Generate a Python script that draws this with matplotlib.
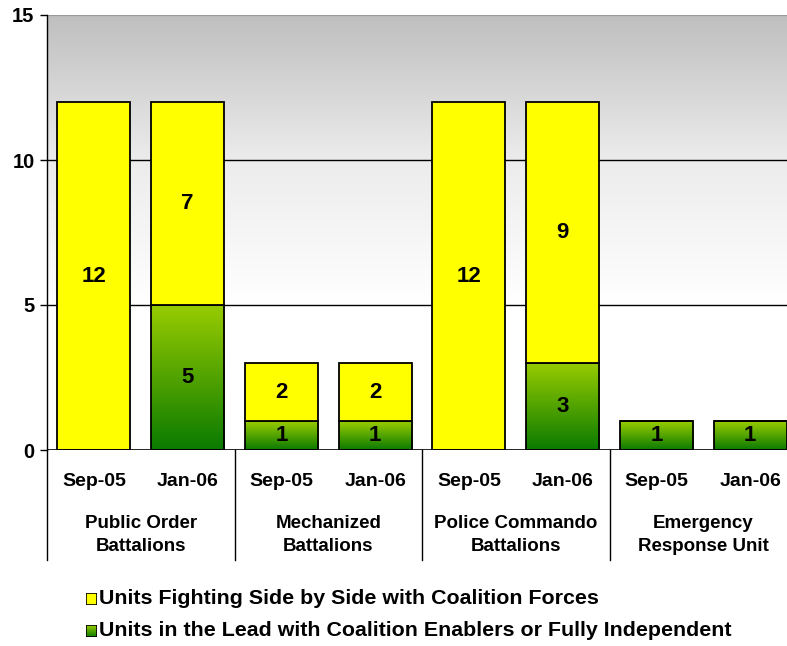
import matplotlib
matplotlib.use("Agg")

import matplotlib.pyplot as plt
import numpy as np
from matplotlib.colors import LinearSegmentedColormap
from matplotlib.patches import Rectangle

plt.rcParams['font.family'] = ['Liberation Sans', 'DejaVu Sans']

periods = ["Sep-05", "Jan-06", "Sep-05", "Jan-06", "Sep-05", "Jan-06", "Sep-05", "Jan-06"]
groups = ["Public Order\nBattalions", "Mechanized\nBattalions",
          "Police Commando\nBattalions", "Emergency\nResponse Unit"]
lead = [0, 5, 1, 1, 0, 3, 1, 1]
side_by_side = [12, 7, 2, 2, 12, 9, 0, 0]
legend_labels = ["Units Fighting Side by Side with Coalition Forces",
                 "Units in the Lead with Coalition Enablers or Fully Independent"]

fig = plt.figure(figsize=(7.87, 6.46), dpi=100)
ax = fig.add_axes([47 / 787, 1 - 450 / 646, 750 / 787, 435 / 646])
ax.set_xlim(-0.5, len(periods) - 0.5)
ax.set_ylim(0, 15)

# background gradient: gray at top, white at bottom
bg = LinearSegmentedColormap.from_list("bg", ["#ffffff", "#ffffff", "#ececec", "#bfbfbf"],)
grad = np.linspace(0, 1, 256).reshape(-1, 1)
ax.imshow(grad, cmap=bg, aspect="auto", extent=[0, 1, 0, 1], origin="lower",
          transform=ax.transAxes, zorder=0)

for y in [5, 10]:
    ax.axhline(y, color="black", lw=1.0, zorder=1)
ax.axhline(15, color="#999999", lw=1.6, zorder=1)

x = np.arange(len(periods))
w = 0.78
green_cmap = LinearSegmentedColormap.from_list("gr", ["#0a7a00", "#99cc00"])

green_bars = ax.bar(x, lead, width=w, facecolor="none", edgecolor="black", lw=1.3, zorder=3)
for b, v in zip(green_bars, lead):
    if v <= 0:
        continue
    x0, y0 = b.get_x(), b.get_y()
    bw, bh = b.get_width(), b.get_height()
    ax.imshow(grad, cmap=green_cmap, aspect="auto", origin="lower",
              extent=[x0, x0 + bw, y0, y0 + bh], zorder=2)
    ax.text(x0 + bw / 2, y0 + bh / 2, str(v), ha="center", va="center",
            fontsize=16, fontweight="bold", zorder=4)

yellow_bars = ax.bar(x, side_by_side, bottom=lead, width=w, color="#ffff00",
                     edgecolor="black", lw=1.3, zorder=3)
for b, v in zip(yellow_bars, side_by_side):
    if v <= 0:
        continue
    ax.text(b.get_x() + b.get_width() / 2, b.get_y() + b.get_height() / 2, str(v),
            ha="center", va="center", fontsize=16, fontweight="bold", zorder=4)
ax.set_xlim(-0.5, len(periods) - 0.5)
ax.set_ylim(0, 15)

ax.set_yticks([0, 5, 10, 15])
ax.set_yticklabels(["0", "5", "10", "15"], fontsize=14.5, fontweight="bold")
ax.tick_params(axis="y", length=5, width=1, pad=4)
ax.set_xticks([])
for s in ["top", "right", "bottom"]:
    ax.spines[s].set_visible(False)
ax.spines["left"].set_linewidth(1.0)
ax.axhline(0, color="black", lw=1.2, zorder=5)

# two-level category labels
for i, p in enumerate(periods):
    ax.text(i, -1.07, p, ha="center", va="center", fontsize=14, fontweight="bold")
for g, name in enumerate(groups):
    ax.text(2 * g + 0.5, -2.93, name, ha="center", va="center", fontsize=13.5,
            fontweight="bold", linespacing=1.5)
for g in range(len(groups)):
    xs = 2 * g - 0.5
    ax.plot([xs, xs], [0, -3.8], color="black", lw=1.0, clip_on=False, zorder=5)

# legend
fig_w, fig_h = 787, 646
for k, (lab, col) in enumerate(zip(legend_labels, ["#ffff00", None])):
    yc = 599 + k * 32
    rect_ax = fig.add_axes([86 / fig_w, 1 - (yc + 6) / fig_h, 11 / fig_w, 12 / fig_h])
    rect_ax.set_axis_off()
    if col:
        rect_ax.add_patch(Rectangle((0, 0), 1, 1, facecolor=col, edgecolor="black", lw=1.2,
                                    transform=rect_ax.transAxes))
    else:
        rect_ax.imshow(grad, cmap=green_cmap, aspect="auto", origin="lower", extent=[0, 1, 0, 1])
        rect_ax.add_patch(Rectangle((0, 0), 1, 1, facecolor="none", edgecolor="black", lw=1.2,
                                    transform=rect_ax.transAxes))
        rect_ax.set_xlim(0, 1)
        rect_ax.set_ylim(0, 1)
    fig.text(99 / fig_w, 1 - yc / fig_h, lab, ha="left", va="center", fontsize=15.4,
             fontweight="bold")

fig.savefig("out.png", dpi=100)
